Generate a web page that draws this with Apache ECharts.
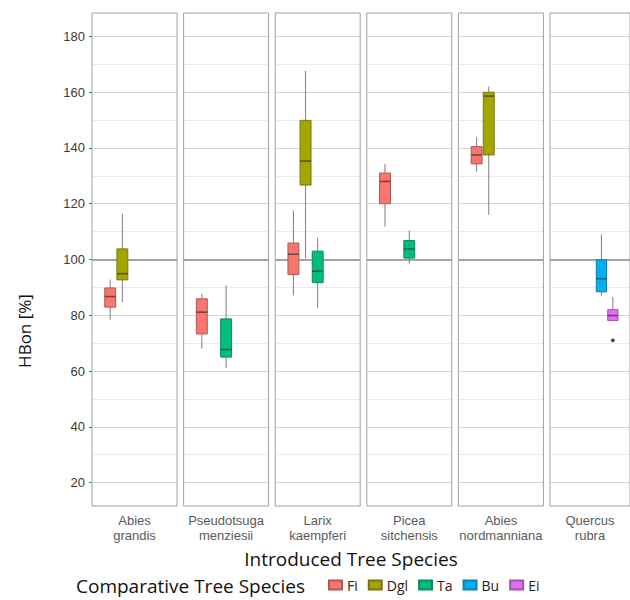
<!DOCTYPE html>
<html>
<head>
<meta charset="utf-8">
<script src="https://cdn.jsdelivr.net/npm/echarts@6/dist/echarts.min.js"></script>
<style>
  html, body { margin: 0; background: #fff; }
  #chart { width: 630px; height: 600px; }
</style>
</head>
<body>
<div id="chart"></div>
<script>
const panels = ['Abies\ngrandis', 'Pseudotsuga\nmenziesii', 'Larix\nkaempferi', 'Picea\nsitchensis', 'Abies\nnordmanniana', 'Quercus\nrubra'];
const species = ['Fi', 'Dgl', 'Ta', 'Bu', 'Ei'];
const speciesColors = ['#F8766D', '#A3A500', '#00BF7D', '#00B0F6', '#E76BF3'];

// [min, q1, median, q3, max] per panel, null = species not compared there
const fiBoxes  = [[78.4, 82.9, 86.7, 89.8, 92.8], [68.0, 73.3, 81.1, 85.9, 87.7], [87.1, 94.6, 101.9, 105.9, 117.6], [111.8, 120.0, 128.0, 131.0, 134.3], [131.5, 134.3, 137.5, 140.5, 143.8], null];
const dglBoxes = [[84.7, 92.7, 94.9, 103.8, 116.4], null, [100.4, 126.7, 135.3, 149.9, 167.6], null, [116.0, 137.5, 158.6, 160.0, 162.0], null];
const taBoxes  = [null, [61.1, 65.0, 67.7, 78.7, 90.7], [82.6, 91.7, 95.8, 103.0, 107.9], [98.5, 100.5, 103.8, 106.8, 110.4], null, null];
const buBoxes  = [null, null, null, null, null, [87.1, 88.4, 93.1, 99.9, 109.0]];
const eiBoxes  = [null, null, null, null, null, [78.1, 78.1, 79.9, 82.0, 86.6]];
const eiOutliers = [[], [], [], [], [], [71.0]];

const yTicks = [20, 40, 60, 80, 100, 120, 140, 160, 180];
const refLine = 100;

const boxesBySpecies = [fiBoxes, dglBoxes, taBoxes, buBoxes, eiBoxes];
// one empty slot each side, like ggplot's discrete expansion
const slots = [' ', ...species, '  '];

function mix(hex, other, t) {
  const a = parseInt(hex.slice(1), 16), b = parseInt(other.slice(1), 16);
  const ch = s => Math.round(((a >> s) & 255) * (1 - t) + ((b >> s) & 255) * t);
  return 'rgb(' + ch(16) + ',' + ch(8) + ',' + ch(0) + ')';
}

function renderBox(params, api) {
  const x = api.value(0);
  const k = api.value(6);
  const lo = api.coord([x, api.value(1)]);
  const q1 = api.coord([x, api.value(2)]);
  const md = api.coord([x, api.value(3)]);
  const q3 = api.coord([x, api.value(4)]);
  const hi = api.coord([x, api.value(5)]);
  const half = api.size([1, 0])[0] * 0.45;
  const cx = lo[0];
  const fill = speciesColors[k];
  const edge = mix(fill, '#333333', 0.4);
  const whisk = '#7f7f7f';
  return {
    type: 'group',
    children: [
      { type: 'line', shape: { x1: cx, y1: lo[1], x2: cx, y2: q1[1] }, style: { stroke: whisk, lineWidth: 1 } },
      { type: 'line', shape: { x1: cx, y1: q3[1], x2: cx, y2: hi[1] }, style: { stroke: whisk, lineWidth: 1 } },
      { type: 'rect', shape: { x: cx - half, y: q3[1], width: half * 2, height: q1[1] - q3[1] },
        style: { fill: fill, stroke: edge, lineWidth: 1 } },
      { type: 'line', shape: { x1: cx - half, y1: md[1], x2: cx + half, y2: md[1] },
        style: { stroke: mix(fill, '#222222', 0.6), lineWidth: 1.6 } }
    ]
  };
}

const grids = [], xAxes = [], yAxes = [], series = [];

panels.forEach(function (name, p) {
  grids.push({
    left: 92 + p * 91.6, top: 13, width: 85, height: 493,
    show: true, z: 5, backgroundColor: 'transparent',
    borderColor: '#a0a0a0', borderWidth: 1
  });
  xAxes.push({
    gridIndex: p, type: 'category', data: slots,
    axisLine: { show: false }, axisTick: { show: false }, axisLabel: { show: false },
    splitLine: { show: false },
    name: name, nameLocation: 'middle', nameGap: 7,
    nameTextStyle: { fontFamily: 'Liberation Sans', fontSize: 13, lineHeight: 15, color: '#5a5a5a' }
  });
  yAxes.push({
    gridIndex: p, type: 'value', min: 11.6, max: 188.4, splitNumber: 9,
    axisLine: { show: false },
    axisTick: { show: p === 0, customValues: yTicks, length: 3, lineStyle: { color: '#666' } },
    axisLabel: {
      show: p === 0, customValues: yTicks, margin: 7,
      fontFamily: 'Liberation Sans', fontSize: 13, color: '#3a3a3a'
    },
    splitLine: { show: true, lineStyle: { color: '#d6d6d6', width: 1 } },
    minorTick: { show: false, splitNumber: 2 },
    minorSplitLine: { show: true, lineStyle: { color: '#ebebeb', width: 1 } }
  });

  const data = [];
  boxesBySpecies.forEach(function (list, k) {
    if (list[p]) data.push([k + 1].concat(list[p], [k]));
  });
  series.push({
    type: 'custom', xAxisIndex: p, yAxisIndex: p, z: 3,
    renderItem: renderBox, data: data,
    encode: { x: 0, y: [1, 2, 3, 4, 5] },
    markLine: {
      z: 1, silent: true, symbol: 'none', label: { show: false },
      lineStyle: { color: '#8c8c8c', width: 1.6, type: 'solid' },
      data: [{ yAxis: refLine }]
    }
  });

  if (eiOutliers[p].length) {
    series.push({
      type: 'scatter', xAxisIndex: p, yAxisIndex: p, z: 4,
      symbolSize: 4, itemStyle: { color: '#222' },
      data: eiOutliers[p].map(v => [species.indexOf('Ei') + 1, v])
    });
  }
});

// empty series just to feed the legend
species.forEach(function (s, k) {
  series.push({
    type: 'bar', name: s, xAxisIndex: 0, yAxisIndex: 0, data: [],
    itemStyle: { color: speciesColors[k], borderColor: mix(speciesColors[k], '#333333', 0.4), borderWidth: 1 }
  });
});

const chart = echarts.init(document.getElementById('chart'), null, { renderer: 'svg' });

chart.setOption({
  backgroundColor: '#ffffff',
  animation: false,
  grid: grids,
  xAxis: xAxes,
  yAxis: yAxes,
  legend: {
    data: species, left: 328, top: 578, padding: 0,
    icon: 'rect', itemWidth: 13, itemHeight: 9, itemGap: 10,
    textStyle: { fontFamily: 'Open Sans', fontSize: 14, color: '#222' }
  },
  graphic: [
    { type: 'text', x: 351, y: 559,
      style: { text: 'Introduced Tree Species', fontFamily: 'Open Sans', fontSize: 19, fill: '#111', align: 'center', verticalAlign: 'middle' } },
    { type: 'text', x: 76, y: 586,
      style: { text: 'Comparative Tree Species', fontFamily: 'Open Sans', fontSize: 19, fill: '#111', align: 'left', verticalAlign: 'middle' } },
    { type: 'text', x: 24, y: 331, rotation: Math.PI / 2,
      style: { text: 'HBon [%]', fontFamily: 'Open Sans', fontSize: 17, fill: '#111', align: 'center', verticalAlign: 'middle' } }
  ],
  series: series
});
</script>
</body>
</html>
